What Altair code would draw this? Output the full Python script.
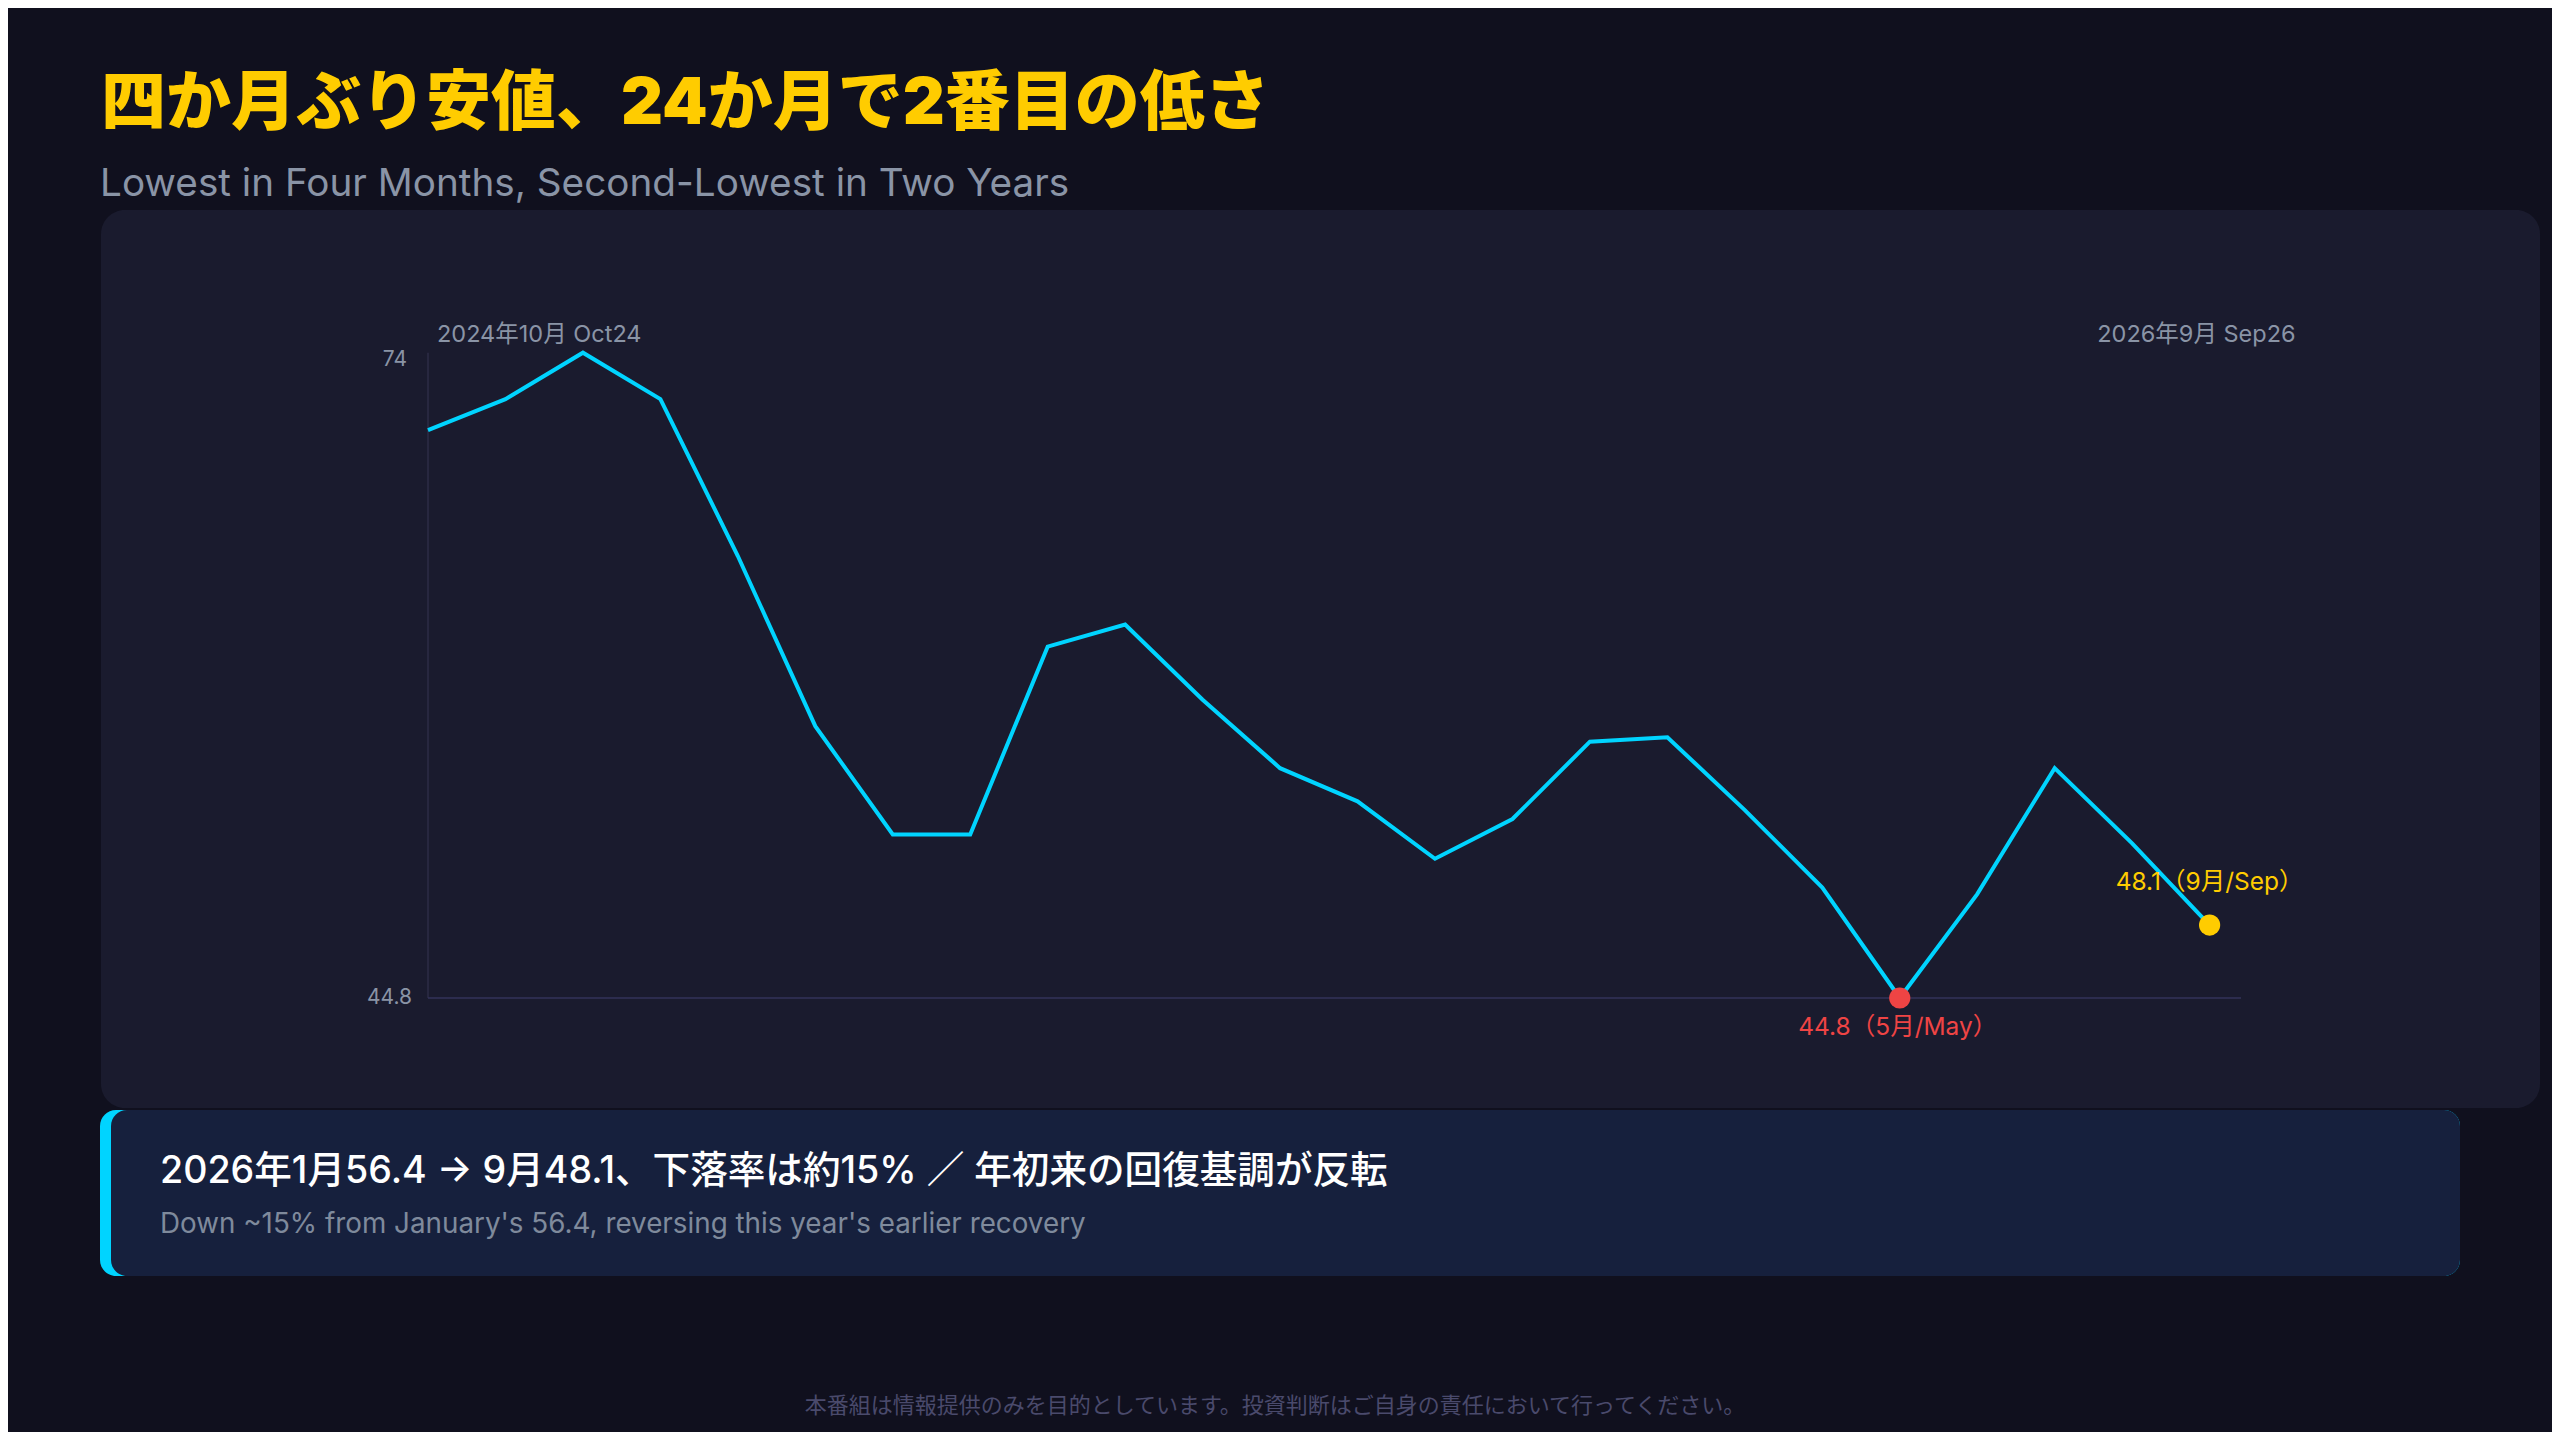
import altair as alt
import pandas as pd

# ---- data ----
months = ["2024-10", "2024-11", "2024-12", "2025-01", "2025-02", "2025-03",
          "2025-04", "2025-05", "2025-06", "2025-07", "2025-08", "2025-09",
          "2025-10", "2025-11", "2025-12", "2026-01", "2026-02", "2026-03",
          "2026-04", "2026-05", "2026-06", "2026-07", "2026-08", "2026-09"]
values = [70.5, 71.9, 74.0, 71.9, 64.8, 57.1, 52.2, 52.2, 60.7, 61.7, 58.3, 55.2,
          53.7, 51.1, 52.9, 56.4, 56.6, 53.3, 49.8, 44.8, 49.5, 55.2, 51.8, 48.1]
month_en = ["Jan", "Feb", "Mar", "Apr", "May", "Jun", "Jul", "Aug", "Sep", "Oct", "Nov", "Dec"]
y_max_tick = 74
y_min_tick = 44.8
range_labels = ["2024年10月 Oct24", "2026年9月 Sep26"]

title_jp = "四か月ぶり安値、24か月で2番目の低さ"
title_en = "Lowest in Four Months, Second-Lowest in Two Years"
callout_jp = "2026年1月56.4 → 9月48.1、下落率は約15% ／ 年初来の回復基調が反転"
callout_en = "Down ~15% from January's 56.4, reversing this year's earlier recovery"
footer = "本番組は情報提供のみを目的としています。投資判断はご自身の責任において行ってください。"

FONT = "Inter, Noto Sans CJK JP"
FONT_JP = "Noto Sans CJK JP"
BG = "#10101E"
PANEL = "#1A1B2E"
CALLOUT = "#16203D"
CYAN = "#00D4FF"
YELLOW = "#FFCC00"
RED = "#EF4444"
GRAY = "#8A94A6"

df = pd.DataFrame({"idx": list(range(len(values))), "month": months, "value": values})

i_min = values.index(min(values))
i_last = len(values) - 1


def lab(i):
    m = int(months[i].split("-")[1])
    return f"{values[i]}（{m}月/{month_en[m - 1]}）"


min_df = pd.DataFrame({"idx": [i_min], "value": [values[i_min]], "label": [lab(i_min)]})
last_df = pd.DataFrame({"idx": [i_last], "value": [values[i_last]], "label": [lab(i_last)]})

xs = alt.Scale(domain=[0, len(values) - 1], range=[420, 2201.6], nice=False, zero=False)
ys = alt.Scale(domain=[y_min_tick, y_max_tick], range=[990, 344.7], nice=False, zero=False)

one = pd.DataFrame({"a": [0]})

# ---- decorations ----
panel = alt.Chart(one).mark_rect(color=PANEL, cornerRadius=24).encode(
    x=alt.value(93), x2=alt.value(2532), y=alt.value(202), y2=alt.value(1100))
callout_bar = alt.Chart(one).mark_rect(color=CYAN, cornerRadius=16).encode(
    x=alt.value(92), x2=alt.value(2452), y=alt.value(1102), y2=alt.value(1268))
callout_box = alt.Chart(one).mark_rect(color=CALLOUT, cornerRadius=16).encode(
    x=alt.value(103), x2=alt.value(2452), y=alt.value(1102), y2=alt.value(1268))

title = alt.Chart(one).mark_text(text=title_jp, font=FONT, fontSize=65, fontWeight=900,
                                 color=YELLOW, align="left", baseline="alphabetic").encode(
    x=alt.value(93), y=alt.value(116))
subtitle = alt.Chart(one).mark_text(text=title_en, font=FONT, fontSize=38.7,
                                    color=GRAY, align="left", baseline="alphabetic").encode(
    x=alt.value(92), y=alt.value(188))
c1 = alt.Chart(one).mark_text(text=callout_jp, font=FONT, fontSize=37.6, fontWeight=500,
                              color="#FFFFFF", align="left", baseline="alphabetic").encode(
    x=alt.value(152), y=alt.value(1175))
c2 = alt.Chart(one).mark_text(text=callout_en, font=FONT, fontSize=27.8,
                              color="#7F8A9C", align="left", baseline="alphabetic").encode(
    x=alt.value(152), y=alt.value(1225))
foot = alt.Chart(one).mark_text(text=footer, font=FONT_JP, fontSize=22,
                                color="#4A4A6C", align="center", baseline="alphabetic").encode(
    x=alt.value(1267), y=alt.value(1405))

# ---- axes (drawn from data) ----
axis_df = pd.DataFrame({"x0": [0], "y0": [y_min_tick], "y1": [y_max_tick]})
vline = alt.Chart(axis_df).mark_rule(color="#2C2D46", strokeWidth=1.5).encode(
    x=alt.X("x0:Q", scale=xs, axis=None),
    y=alt.Y("y0:Q", scale=ys, axis=None), y2="y1:Q")
hline = alt.Chart(axis_df).mark_rule(color="#33335A", strokeWidth=1.5).encode(
    x=alt.value(420), x2=alt.value(2233),
    y=alt.Y("y0:Q", scale=ys, axis=None))

tick_top = alt.Chart(pd.DataFrame({"x0": [0], "v": [y_max_tick]})).mark_text(
    font=FONT, fontSize=21, color=GRAY, align="right", baseline="middle", dx=-21, dy=7).encode(
    x=alt.X("x0:Q", scale=xs, axis=None),
    y=alt.Y("v:Q", scale=ys, axis=None), text=alt.Text("v:Q"))
tick_bot = alt.Chart(pd.DataFrame({"x0": [0], "v": [y_min_tick]})).mark_text(
    font=FONT, fontSize=21, color=GRAY, align="right", baseline="middle", dx=-16, dy=0).encode(
    x=alt.X("x0:Q", scale=xs, axis=None),
    y=alt.Y("v:Q", scale=ys, axis=None), text=alt.Text("v:Q", format=".1f"))

lab_first = alt.Chart(pd.DataFrame({"x0": [0], "t": [range_labels[0]]})).mark_text(
    font=FONT, fontSize=23.5, color=GRAY, align="left", baseline="alphabetic", dx=9).encode(
    x=alt.X("x0:Q", scale=xs, axis=None), y=alt.value(334), text="t:N")
lab_last = alt.Chart(pd.DataFrame({"x0": [i_last], "t": [range_labels[1]]})).mark_text(
    font=FONT, fontSize=23.5, color=GRAY, align="right", baseline="alphabetic", dx=86).encode(
    x=alt.X("x0:Q", scale=xs, axis=None), y=alt.value(334), text="t:N")

# ---- series ----
line = alt.Chart(df).mark_line(color=CYAN, strokeWidth=4).encode(
    x=alt.X("idx:Q", scale=xs, axis=None),
    y=alt.Y("value:Q", scale=ys, axis=None))

pt_min = alt.Chart(min_df).mark_point(filled=True, shape="circle", size=450, color=RED, opacity=1).encode(
    x=alt.X("idx:Q", scale=xs, axis=None), y=alt.Y("value:Q", scale=ys, axis=None))
pt_last = alt.Chart(last_df).mark_point(filled=True, shape="circle", size=450, color=YELLOW, opacity=1).encode(
    x=alt.X("idx:Q", scale=xs, axis=None), y=alt.Y("value:Q", scale=ys, axis=None))
txt_min = alt.Chart(min_df).mark_text(font=FONT, fontSize=24.5, color=RED, align="center",
                                      baseline="alphabetic", dx=-2, dy=37).encode(
    x=alt.X("idx:Q", scale=xs, axis=None), y=alt.Y("value:Q", scale=ys, axis=None), text="label:N")
txt_last = alt.Chart(last_df).mark_text(font=FONT, fontSize=24.5, color=YELLOW, align="center",
                                        baseline="alphabetic", dx=0, dy=-35).encode(
    x=alt.X("idx:Q", scale=xs, axis=None), y=alt.Y("value:Q", scale=ys, axis=None), text="label:N")

chart = alt.layer(
    panel, callout_bar, callout_box, title, subtitle, c1, c2, foot,
    vline, hline, tick_top, tick_bot, lab_first, lab_last,
    line, pt_min, pt_last, txt_min, txt_last,
).properties(
    width=2544, height=1424, autosize=alt.AutoSizeParams(type="none"), padding=0,
    background=BG,
).configure_view(stroke=None)

chart.save("out.html", embed_options={"renderer": "svg", "actions": False})
